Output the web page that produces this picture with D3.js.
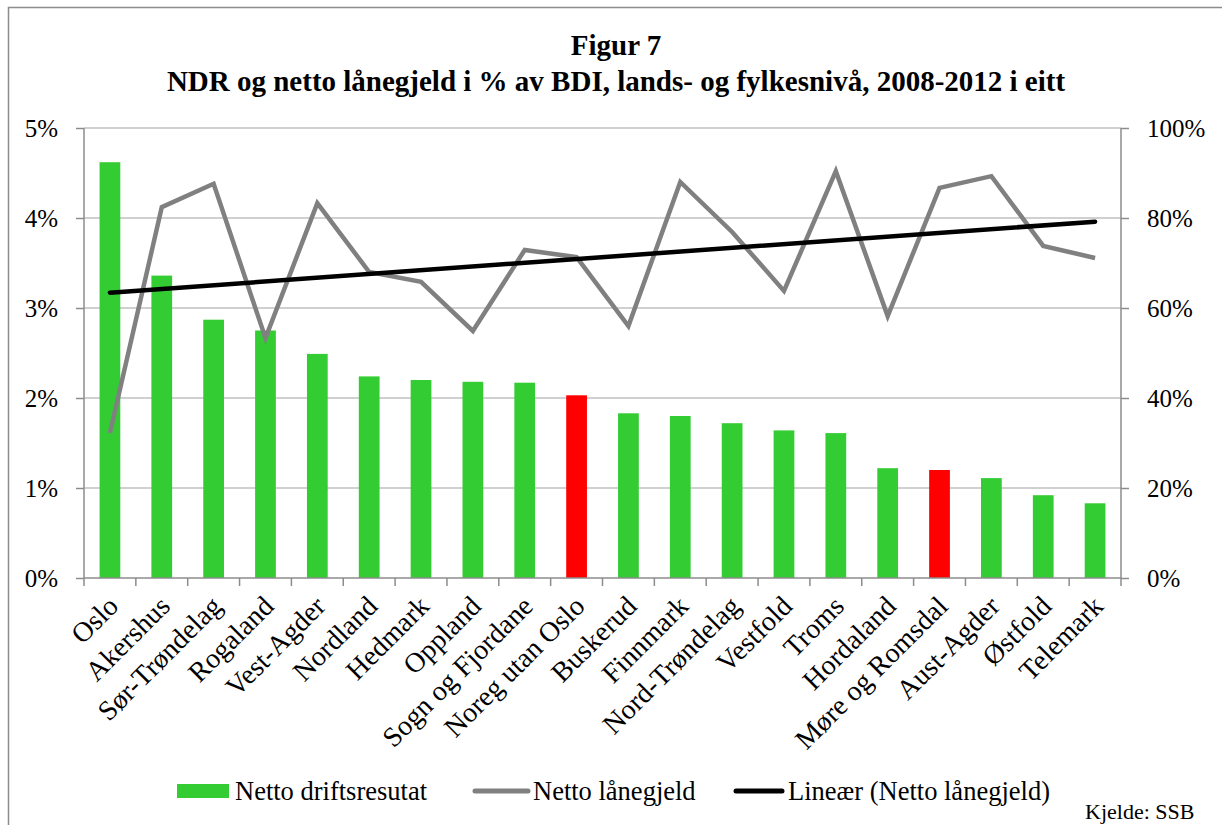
<!DOCTYPE html>
<html>
<head>
<meta charset="utf-8">
<script src="https://cdn.jsdelivr.net/npm/d3@7"></script>
<style>
  body { margin: 0; background: #fff; }
  text { font-family: "Liberation Serif", "Times New Roman", serif; fill: #000; }
</style>
</head>
<body>
<svg id="mainsvg" width="1222" height="825"></svg>
<script>
var categories = ["Oslo", "Akershus", "Sør-Trøndelag", "Rogaland", "Vest-Agder", "Nordland",
  "Hedmark", "Oppland", "Sogn og Fjordane", "Noreg utan Oslo", "Buskerud", "Finnmark",
  "Nord-Trøndelag", "Vestfold", "Troms", "Hordaland", "Møre og Romsdal", "Aust-Agder",
  "Østfold", "Telemark"];
// Netto driftsresultat, % av BDI (left axis)
var ndr = [4.62, 3.36, 2.87, 2.75, 2.49, 2.24, 2.20, 2.18, 2.17, 2.03, 1.83, 1.80,
  1.72, 1.64, 1.61, 1.22, 1.20, 1.11, 0.92, 0.83];
// Netto lånegjeld, % av BDI (right axis)
var debt = [32.2, 82.4, 87.6, 53.3, 83.3, 68.0, 65.8, 54.9, 72.9, 71.3, 56.0, 88.0,
  76.9, 63.8, 90.4, 58.2, 86.7, 89.3, 73.8, 71.1];
var highlight = ["Noreg utan Oslo", "Møre og Romsdal"];
var leftTicks = [0, 1, 2, 3, 4, 5];
var rightTicks = [0, 20, 40, 60, 80, 100];

var svg = d3.select("#mainsvg");
var m = { left: 84, right: 1121, top: 128, bottom: 578 };

// frame
svg.append("rect").attr("x", 8.5).attr("y", 7.5).attr("width", 1230).attr("height", 830)
  .style("fill", "none").style("stroke", "#8c8c8c").attr("stroke-width", 1.5);

// title
svg.append("text").attr("x", 616).attr("y", 55).attr("text-anchor", "middle")
  .style("font-weight", "bold").style("font-size", "29px").text("Figur 7");
svg.append("text").attr("x", 616).attr("y", 91).attr("text-anchor", "middle")
  .style("font-weight", "bold").style("font-size", "29px")
  .text("NDR og netto lånegjeld i % av BDI, lands- og fylkesnivå, 2008-2012 i eitt");

var x = d3.scaleBand().domain(categories).range([m.left, m.right]).paddingInner(0.6).paddingOuter(0.3);
var yL = d3.scaleLinear().domain([0, 5]).range([m.bottom, m.top]);
var yR = d3.scaleLinear().domain([0, 100]).range([m.bottom, m.top]);

// gridlines
svg.append("g").selectAll("line").data(leftTicks.slice(1)).enter().append("line")
  .attr("x1", m.left).attr("x2", m.right)
  .attr("y1", function (d) { return yL(d); }).attr("y2", function (d) { return yL(d); })
  .style("stroke", "#c0c0c0").attr("stroke-width", 1.5);

// bars
svg.append("g").selectAll("rect").data(categories).enter().append("rect")
  .attr("x", function (d) { return x(d); })
  .attr("width", x.bandwidth())
  .attr("y", function (d, i) { return yL(ndr[i]); })
  .attr("height", function (d, i) { return m.bottom - yL(ndr[i]); })
  .style("fill", function (d) { return highlight.indexOf(d) >= 0 ? "#ff0000" : "#33cc33"; });

// axes
var axisColor = "#8c8c8c";
var gL = svg.append("g").attr("transform", "translate(" + m.left + ",0)")
  .call(d3.axisLeft(yL).tickValues(leftTicks).tickSize(8).tickPadding(18)
    .tickFormat(function (d) { return d + "%"; }));
var gR = svg.append("g").attr("transform", "translate(" + m.right + ",0)")
  .call(d3.axisRight(yR).tickValues(rightTicks).tickSize(8).tickPadding(18)
    .tickFormat(function (d) { return d + "%"; }));
var xTickPos = d3.range(categories.length + 1).map(function (i) { return m.left + i * x.step(); });
var gB = svg.append("g");
gB.append("line").attr("x1", m.left).attr("x2", m.right).attr("y1", m.bottom).attr("y2", m.bottom)
  .style("stroke", axisColor).attr("stroke-width", 1.5);
gB.selectAll("line.tick").data(xTickPos).enter().append("line").attr("class", "tick")
  .attr("x1", function (d) { return d; }).attr("x2", function (d) { return d; })
  .attr("y1", m.bottom).attr("y2", m.bottom + 8)
  .style("stroke", axisColor).attr("stroke-width", 1.5);
[gL, gR].forEach(function (g) {
  g.selectAll("path.domain").attr("d", function () {
    return "M0," + m.top + "V" + m.bottom;
  }).style("stroke", axisColor).attr("stroke-width", 1.5);
  g.selectAll(".tick line").style("stroke", axisColor).attr("stroke-width", 1.5);
  g.selectAll(".tick text").style("font-size", "25px").style("font-family", "Liberation Serif").attr("fill", "#000");
});

// category labels
svg.append("g").selectAll("text").data(categories).enter().append("text")
  .attr("text-anchor", "end")
  .style("font-size", "28px")
  .attr("transform", function (d) {
    return "translate(" + (x(d) + x.bandwidth() / 2 - 4) + "," + (m.bottom + 16) + ") rotate(-45)";
  })
  .attr("dy", "0.7em")
  .text(function (d) { return d; });

// debt line
var cx = function (i) { return x(categories[i]) + x.bandwidth() / 2; };
var line = d3.line().x(function (d, i) { return cx(i); }).y(function (d) { return yR(d); });
svg.append("path").datum(debt).attr("d", line)
  .style("fill", "none").style("stroke", "#808080").attr("stroke-width", 4.5)
  .attr("stroke-linejoin", "miter");

// linear trend (least squares on index)
var n = debt.length, xs = d3.range(1, n + 1);
var mx = d3.mean(xs), my = d3.mean(debt);
var slope = d3.sum(xs, function (v, i) { return (v - mx) * (debt[i] - my); }) /
  d3.sum(xs, function (v) { return (v - mx) * (v - mx); });
var icpt = my - slope * mx;
svg.append("line")
  .attr("x1", cx(0)).attr("y1", yR(icpt + slope * 1))
  .attr("x2", cx(n - 1)).attr("y2", yR(icpt + slope * n))
  .style("stroke", "#000").attr("stroke-width", 4.5).attr("stroke-linecap", "round");

// legend
var lg = svg.append("g");
lg.append("rect").attr("x", 177).attr("y", 784).attr("width", 52).attr("height", 14).style("fill", "#33cc33");
lg.append("text").attr("x", 235).attr("y", 800).style("font-size", "26.5px").text("Netto driftsresutat");
lg.append("line").attr("x1", 475).attr("x2", 528).attr("y1", 791).attr("y2", 791)
  .style("stroke", "#808080").attr("stroke-width", 5).attr("stroke-linecap", "round");
lg.append("text").attr("x", 533).attr("y", 800).style("font-size", "26.5px").text("Netto lånegjeld");
lg.append("line").attr("x1", 736).attr("x2", 782).attr("y1", 791).attr("y2", 791)
  .style("stroke", "#000").attr("stroke-width", 5).attr("stroke-linecap", "round");
lg.append("text").attr("x", 788).attr("y", 800).style("font-size", "26.5px").text("Lineær (Netto lånegjeld)");

svg.append("text").attr("x", 1085).attr("y", 819).style("font-size", "22px").text("Kjelde: SSB");
</script>
</body>
</html>
